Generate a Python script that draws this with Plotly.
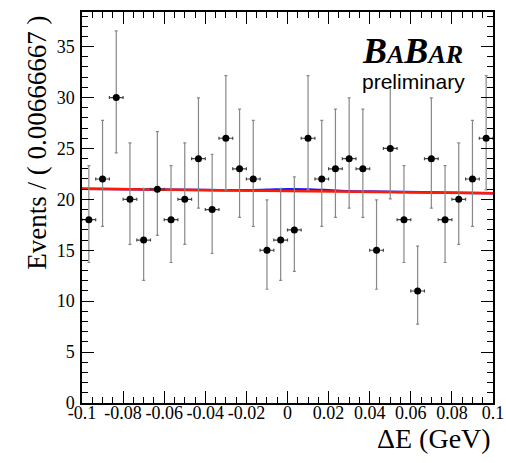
import plotly.graph_objects as go

# ---- data ----
bin_centers = [-0.09667, -0.09, -0.08333, -0.07667, -0.07, -0.06333, -0.05667, -0.05,
               -0.04333, -0.03667, -0.03, -0.02333, -0.01667, -0.01, -0.00333, 0.00333,
               0.01, 0.01667, 0.02333, 0.03, 0.03667, 0.04333, 0.05, 0.05667, 0.06333,
               0.07, 0.07667, 0.08333, 0.09, 0.09667]
counts = [18, 22, 30, 20, 16, 21, 18, 20, 24, 19, 26, 23, 22, 15, 16, 17, 26, 22, 23, 24,
          23, 15, 25, 18, 11, 24, 18, 20, 22, 26]
err_low = [4.20, 4.65, 5.44, 4.43, 3.95, 4.54, 4.20, 4.43, 4.86, 4.32, 5.06, 4.76, 4.65, 3.83,
           3.95, 4.08, 5.06, 4.65, 4.76, 4.86, 4.76, 3.83, 4.96, 4.20, 3.26, 4.86, 4.20, 4.43,
           4.65, 5.06]
err_high = [5.32, 5.76, 6.54, 5.54, 5.08, 5.65, 5.32, 5.54, 5.96, 5.43, 6.16, 5.86, 5.76, 4.95,
            5.08, 5.20, 6.16, 5.76, 5.86, 5.96, 5.86, 4.95, 6.06, 5.32, 4.41, 5.96, 5.32, 5.54,
            5.76, 6.16]
half_bin = 0.0033333

total_x = [-0.1, -0.04, -0.03, -0.02, -0.01, 0.0, 0.01, 0.02, 0.03, 0.04, 0.1]
total_fit = [21.05, 20.92, 20.90, 20.90, 20.94, 20.99, 20.98, 20.90, 20.80, 20.76, 20.60]
background_x = [-0.1, 0.1]
background_fit = [21.05, 20.60]

x_ticks = [-0.1, -0.08, -0.06, -0.04, -0.02, 0, 0.02, 0.04, 0.06, 0.08, 0.1]
x_tick_text = ["-0.1", "-0.08", "-0.06", "-0.04", "-0.02", "0", "0.02", "0.04", "0.06", "0.08", "0.1"]
y_ticks = [0, 5, 10, 15, 20, 25, 30, 35]

SERIF = "Liberation Serif"

fig = go.Figure()

fig.add_trace(go.Scatter(
    x=total_x, y=total_fit, mode="lines", line=dict(color="#1a1aff", width=2.5, shape="spline"),
    showlegend=False, hoverinfo="skip"))
fig.add_trace(go.Scatter(
    x=background_x, y=background_fit, mode="lines", line=dict(color="#ff1a00", width=2.5),
    showlegend=False, hoverinfo="skip"))

fig.add_trace(go.Scatter(
    x=bin_centers, y=counts, mode="markers",
    marker=dict(color="black", size=7),
    error_y=dict(type="data", symmetric=False, array=err_high, arrayminus=err_low,
                 color="#888888", thickness=1.2, width=1.5),
    error_x=dict(type="constant", value=half_bin, color="#444444", thickness=1.2, width=1.5),
    showlegend=False))

axis_common = dict(
    showline=True, linecolor="black", linewidth=1.5, mirror="ticks",
    ticks="inside", ticklen=12, tickcolor="black", tickwidth=1,
    showgrid=False, zeroline=False, automargin=False,
    tickfont=dict(family=SERIF, size=18, color="black"),
)

fig.update_xaxes(range=[-0.1, 0.1], tickvals=x_ticks, ticktext=x_tick_text,
                 minor=dict(ticks="inside", ticklen=6, dtick=0.005, tick0=0,
                            tickcolor="black", tickwidth=1),
                 ticklabelstandoff=-7, **axis_common)
fig.update_yaxes(range=[0, 38.4], tickvals=y_ticks,
                 minor=dict(ticks="inside", ticklen=6, dtick=1, tick0=0,
                            tickcolor="black", tickwidth=1),
                 ticklabelstandoff=2, **axis_common)

fig.update_layout(
    width=506, height=463,
    margin=dict(l=82, r=13, t=12, b=60),
    plot_bgcolor="white", paper_bgcolor="white",
    annotations=[
        dict(text="ΔE (GeV)", xref="paper", yref="paper", x=1.0, y=-0.09,
             xanchor="right", yanchor="middle", showarrow=False,
             font=dict(family=SERIF, size=28, color="black")),
        dict(text="Events / ( 0.00666667 )", xref="paper", yref="paper", x=-0.11, y=0.995,
             xanchor="center", yanchor="top", textangle=-90, showarrow=False,
             font=dict(family=SERIF, size=27, color="black")),
        dict(text="<b><i>B<span style='font-size:26px'>A</span>B<span style='font-size:26px'>AR</span></i></b>",
             xref="paper", yref="paper", x=0.932, y=0.90,
             xanchor="right", yanchor="middle", showarrow=False,
             font=dict(family=SERIF, size=36, color="black")),
        dict(text="preliminary", xref="paper", yref="paper", x=0.937, y=0.823,
             xanchor="right", yanchor="middle", showarrow=False,
             font=dict(family="Liberation Sans", size=21, color="black")),
    ],
)

fig.write_html("out.html")
